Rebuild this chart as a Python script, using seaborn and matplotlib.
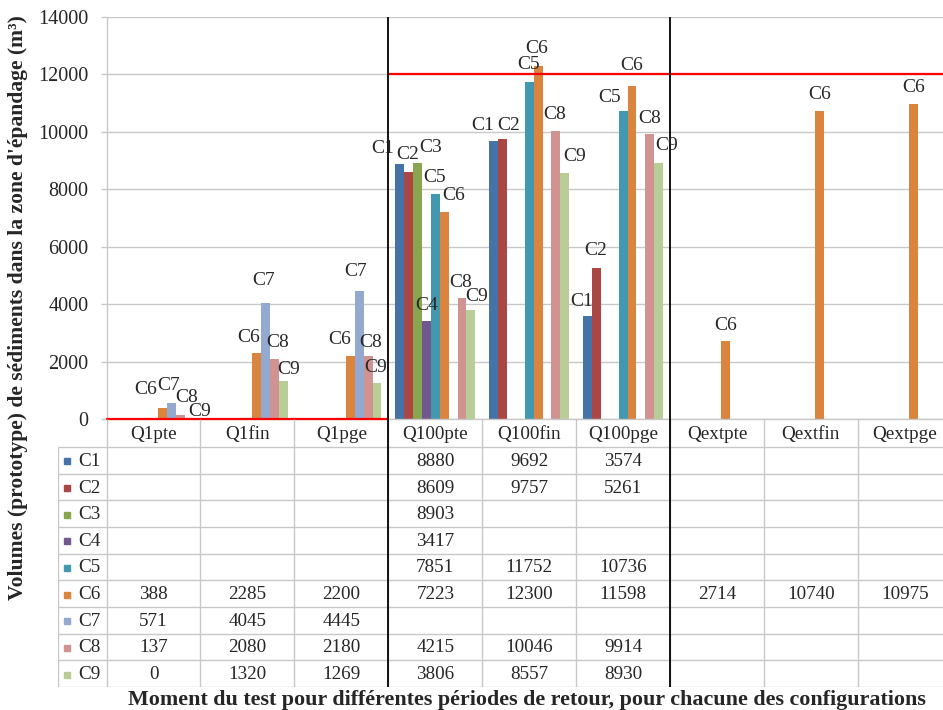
import numpy as np
import pandas as pd
import matplotlib
matplotlib.use("Agg")
import matplotlib.pyplot as plt
import seaborn as sns

# ---- data -------------------------------------------------------------
categories = ["Q1pte", "Q1fin", "Q1pge", "Q100pte", "Q100fin", "Q100pge",
              "Qextpte", "Qextfin", "Qextpge"]
series = ["C1", "C2", "C3", "C4", "C5", "C6", "C7", "C8", "C9"]
nan = np.nan
C1 = [nan, nan, nan, 8880, 9692, 3574, nan, nan, nan]
C2 = [nan, nan, nan, 8609, 9757, 5261, nan, nan, nan]
C3 = [nan, nan, nan, 8903, nan, nan, nan, nan, nan]
C4 = [nan, nan, nan, 3417, nan, nan, nan, nan, nan]
C5 = [nan, nan, nan, 7851, 11752, 10736, nan, nan, nan]
C6 = [388, 2285, 2200, 7223, 12300, 11598, 2714, 10740, 10975]
C7 = [571, 4045, 4445, nan, nan, nan, nan, nan, nan]
C8 = [137, 2080, 2180, 4215, 10046, 9914, nan, nan, nan]
C9 = [0, 1320, 1269, 3806, 8557, 8930, nan, nan, nan]
values = [C1, C2, C3, C4, C5, C6, C7, C8, C9]
yticks = [0, 2000, 4000, 6000, 8000, 10000, 12000, 14000]
threshold_low = 0
threshold_high = 12000

colors = ["#4572A7", "#AA4643", "#89A54E", "#71588F", "#4198AF",
          "#DB843D", "#93A9CF", "#D19392", "#B9CD96"]

# label nudges in pixels (dx, dy above bar top); default (0, 16)
label_offsets = {
    ("Q1pte", "C6"): (-17, 18), ("Q1pte", "C7"): (-3, 17),
    ("Q1pte", "C8"): (6, 18), ("Q1pte", "C9"): (10, 8),
    ("Q1fin", "C6"): (-8, 16), ("Q1fin", "C7"): (-2, 22),
    ("Q1fin", "C8"): (3, 17), ("Q1fin", "C9"): (5, 12),
    ("Q1pge", "C6"): (-11, 16), ("Q1pge", "C7"): (-4, 20),
    ("Q1pge", "C8"): (3, 14), ("Q1pge", "C9"): (-1, 15),
    ("Q100pte", "C1"): (-17, 16), ("Q100pte", "C2"): (-1, 17),
    ("Q100pte", "C3"): (13, 16), ("Q100pte", "C4"): (0, 15),
    ("Q100pte", "C5"): (-1, 16), ("Q100pte", "C6"): (9, 16),
    ("Q100pte", "C8"): (-1, 15), ("Q100pte", "C9"): (6, 13),
    ("Q100fin", "C1"): (-11, 15), ("Q100fin", "C2"): (6, 13),
    ("Q100fin", "C5"): (-1, 17), ("Q100fin", "C6"): (-1, 17),
    ("Q100fin", "C8"): (-1, 16), ("Q100fin", "C9"): (10, 17),
    ("Q100pge", "C1"): (-6, 15), ("Q100pge", "C2"): (-1, 17),
    ("Q100pge", "C5"): (-13, 13), ("Q100pge", "C6"): (0, 20),
    ("Q100pge", "C8"): (0, 16), ("Q100pge", "C9"): (8, 17),
}

rows = []
for s, vals in zip(series, values):
    for c, v in zip(categories, vals):
        rows.append({"moment": c, "config": s, "volume": v})
df = pd.DataFrame(rows)
df_plot = df.dropna(subset=["volume"])

# ---- figure -----------------------------------------------------------
sns.set_style("white")
plt.rcParams["font.family"] = ["Liberation Serif", "DejaVu Serif"]

W, H = 943, 710
fig = plt.figure(figsize=(W / 100, H / 100), dpi=100)

ax_left, ax_right, ax_top, ax_bot = 106.6, 951.7, 17, 419
ax = fig.add_axes([ax_left / W, 1 - ax_bot / H,
                   (ax_right - ax_left) / W, (ax_bot - ax_top) / H])

grid_col = "#C8C8C8"
sns.barplot(data=df_plot, x="moment", y="volume", hue="config",
            order=categories, hue_order=series, palette=colors,
            width=0.855, dodge=True, errorbar=None, saturation=1,
            linewidth=0, legend=False, ax=ax, zorder=2)

ax.set_xlim(-0.5, len(categories) - 0.5)
ax.set_ylim(0, 14000)
ax.set_yticks(yticks)
ax.set_yticklabels([str(t) for t in yticks], fontsize=14.5)
ax.yaxis.grid(True, color=grid_col, lw=1, zorder=0)
ax.set_axisbelow(True)
ax.tick_params(axis="y", length=4, width=1, color=grid_col, pad=9, left=True)
ax.tick_params(axis="x", bottom=False, labelbottom=False)
ax.set_xlabel("")
ax.set_ylabel("")
for side in ["top", "right"]:
    ax.spines[side].set_visible(False)
for side in ["left", "bottom"]:
    ax.spines[side].set_color(grid_col)
    ax.spines[side].set_linewidth(1)

# bar labels carrying the configuration name
for s, cont in zip(series, ax.containers):
    for bar in cont:
        h = bar.get_height()
        if np.isnan(h):
            continue
        cx = bar.get_x() + bar.get_width() / 2
        cat = categories[int(round(cx))]
        dx, dy = label_offsets.get((cat, s), (0, 16))
        ax.annotate(s, xy=(cx, h), xytext=(dx, dy), textcoords="offset pixels",
                    ha="center", va="center", fontsize=14, zorder=5)

# reference levels and group separators
ax.plot([-0.5, 2.5], [threshold_low, threshold_low], color="red", lw=1.6,
        clip_on=False, zorder=4)
ax.plot([2.5, 8.5], [threshold_high, threshold_high], color="red", lw=1.6,
        zorder=4)
for xv in (2.5, 5.5):
    ax.axvline(xv, color="black", lw=1.3, zorder=4)

# ---- data table beneath the chart ------------------------------------
tab_left, tab_bot = 58, 687
unit = (ax_right - ax_left) / len(categories)
x0 = -0.5 - (ax_left - tab_left) / unit
tax = fig.add_axes([tab_left / W, 1 - tab_bot / H,
                    (ax_right - tab_left) / W, (tab_bot - ax_bot) / H])
tab_h = tab_bot - ax_bot
tax.set_xlim(x0, len(categories) - 0.5)
tax.set_ylim(tab_h, 0)
tax.axis("off")

head_h = 28
row_h = (tab_h - head_h) / len(series)
row_edges = [head_h + k * row_h for k in range(len(series) + 1)]
tax.hlines(row_edges, x0, len(categories) - 0.5, color=grid_col, lw=1)
tax.vlines([x0], head_h, tab_h, color=grid_col, lw=1)
tax.vlines([k - 0.5 for k in range(len(categories))], 0, tab_h,
           color=grid_col, lw=1)
tax.vlines([2.5, 5.5], 0, tab_h, color="black", lw=1.3, zorder=4)

for i, c in enumerate(categories):
    tax.text(i, head_h / 2 + 1, c, ha="center", va="center", fontsize=13.8)

for k, (s, vals, col) in enumerate(zip(series, values, colors)):
    yc = head_h + (k + 0.5) * row_h + 1
    tax.plot([x0 + 8.5 / unit], [yc], marker="s", ms=5, color=col,
             linestyle="none")
    tax.text(x0 + 20 / unit, yc, s, ha="left", va="center", fontsize=13.8)
    for i, v in enumerate(vals):
        if not np.isnan(v):
            tax.text(i, yc, f"{int(v)}", ha="center", va="center",
                     fontsize=13.8)

# axis titles
fig.text(18 / W, 1 - 308 / H,
         "Volumes (prototype) de sédiments dans la zone d'épandage (m³)",
         rotation=90, ha="center", va="center", fontsize=15.6,
         fontweight="bold")
fig.text(527 / W, 1 - 700 / H,
         "Moment du test pour différentes périodes de retour, pour chacune des configurations",
         ha="center", va="center", fontsize=15.8, fontweight="bold")

fig.savefig("out.png", dpi=100)
